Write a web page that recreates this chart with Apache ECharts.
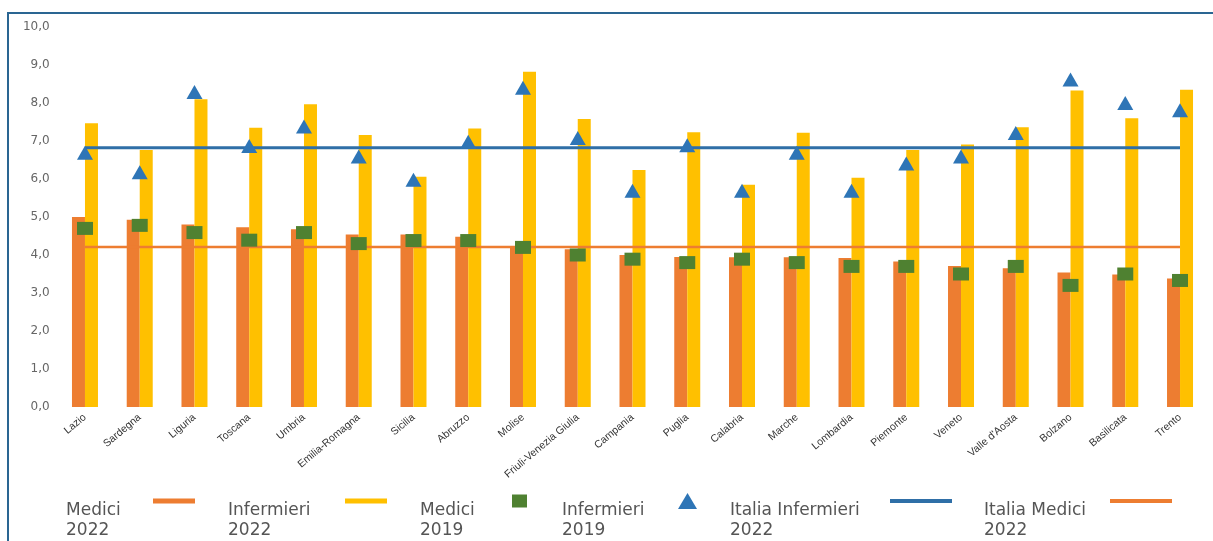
<!DOCTYPE html>
<html>
<head>
<meta charset="utf-8">
<script src="https://cdn.jsdelivr.net/npm/echarts@6/dist/echarts.min.js"></script>
<style>
  html, body { margin: 0; padding: 0; background: #ffffff; }
  #chart { position: absolute; left: 0; top: 0; width: 1213px; height: 541px; }
  #frame { position: absolute; left: 7px; top: 12px; width: 1220px; height: 560px;
           border-left: 2px solid #2a6592; border-top: 2px solid #2a6592; pointer-events: none; }
</style>
</head>
<body>
<div id="chart"></div>
<div id="frame"></div>
<script>
const categories = ['Lazio','Sardegna','Liguria','Toscana','Umbria','Emilia-Romagna','Sicilia','Abruzzo','Molise','Friuli-Venezia Giulia','Campania','Puglia','Calabria','Marche','Lombardia','Piemonte','Veneto',"Valle d'Aosta",'Bolzano','Basilicata','Trento'];
const medici2022 = [5.00, 4.93, 4.80, 4.73, 4.68, 4.54, 4.54, 4.48, 4.23, 4.15, 4.00, 3.95, 3.94, 3.94, 3.92, 3.83, 3.71, 3.65, 3.54, 3.49, 3.38];
const infermieri2022 = [7.47, 6.76, 8.10, 7.35, 7.97, 7.16, 6.06, 7.33, 8.82, 7.58, 6.24, 7.23, 5.85, 7.22, 6.03, 6.76, 6.91, 7.36, 8.33, 7.60, 8.35];
const medici2019 = [4.70, 4.78, 4.59, 4.39, 4.59, 4.30, 4.38, 4.38, 4.20, 4.00, 3.89, 3.80, 3.89, 3.80, 3.70, 3.70, 3.50, 3.70, 3.20, 3.50, 3.33];
const infermieri2019 = [6.69, 6.18, 8.29, 6.87, 7.38, 6.59, 5.98, 6.98, 8.40, 7.08, 5.69, 6.89, 5.69, 6.69, 5.69, 6.41, 6.59, 7.21, 8.62, 8.00, 7.81];
const italiaInfermieri2022 = 6.82;
const italiaMedici2022 = 4.21;
const yTicks = [0,1,2,3,4,5,6,7,8,9,10];

const C_ORANGE = '#ED7D31', C_YELLOW = '#FFC000', C_GREEN = '#4F8131', C_BLUE = '#2E75B6', C_BLUE_LINE = '#2F6FA7';

const legendSpec = [
  { name: 'Medici 2022', textLeft: 66, iconLeft: 153, w: 42, h: 5, icon: 'rect' },
  { name: 'Infermieri 2022', textLeft: 228, iconLeft: 345, w: 42, h: 5, icon: 'rect' },
  { name: 'Medici 2019', textLeft: 420, iconLeft: 512, w: 15, h: 13, icon: 'rect' },
  { name: 'Infermieri 2019', textLeft: 562, iconLeft: 678, w: 19, h: 16, icon: 'triangle' },
  { name: 'Italia Infermieri 2022', textLeft: 730, iconLeft: 890, w: 62, h: 4, icon: 'rect' },
  { name: 'Italia Medici 2022', textLeft: 984, iconLeft: 1110, w: 62, h: 4, icon: 'rect' }
];
function fmt(n) {
  const m = n.match(/^(.*) (\d{4})$/);
  return '{s| }\n{t|' + m[1] + '}\n{t|' + m[2] + '}';
}
const legends = legendSpec.map(s => ({
  data: [s.name],
  left: s.textLeft,
  top: 476,
  padding: 0,
  align: 'right',
  icon: s.icon,
  itemWidth: s.w,
  itemHeight: s.h,
  selectedMode: false,
  formatter: fmt,
  textStyle: {
    fontFamily: 'DejaVu Sans', fontSize: 17, color: '#555555',
    rich: {
      s: { fontSize: 10, lineHeight: 40, width: s.iconLeft - s.textLeft - 5 },
      t: { fontFamily: 'DejaVu Sans', fontSize: 17, color: '#555555', lineHeight: 20, align: 'left',
           width: s.iconLeft - s.textLeft - 5 }
    }
  }
}));

const chart = echarts.init(document.getElementById('chart'), null, { renderer: 'canvas' });
chart.setOption({
  animation: false,
  backgroundColor: '#ffffff',
  legend: legends,
  grid: { left: 57.6, right: 5.6, top: 27, bottom: 134, containLabel: false },
  xAxis: {
    type: 'category',
    data: categories,
    axisLine: { show: false },
    axisTick: { show: false },
    axisLabel: { interval: 0, rotate: 40, fontSize: 10.5, color: '#333333', fontFamily: 'Liberation Sans', margin: 9 }
  },
  yAxis: {
    type: 'value',
    min: yTicks[0], max: yTicks[yTicks.length - 1], interval: 1,
    splitLine: { show: false },
    axisLine: { show: false },
    axisTick: { show: false },
    axisLabel: { fontSize: 12, color: '#666666', fontFamily: 'DejaVu Sans', margin: 8,
      formatter: v => v.toFixed(1).replace('.', ',') }
  },
  series: [
    { name: 'Medici 2022', type: 'bar', data: medici2022, barWidth: 13, barGap: '0%',
      itemStyle: { color: C_ORANGE }, z: 2 },
    { name: 'Infermieri 2022', type: 'bar', data: infermieri2022, barWidth: 13, barGap: '0%',
      itemStyle: { color: C_YELLOW }, z: 2 },
    { name: 'Italia Infermieri 2022', type: 'line', data: categories.map(() => italiaInfermieri2022),
      symbol: 'none', lineStyle: { color: C_BLUE_LINE, width: 3 }, itemStyle: { color: C_BLUE_LINE }, z: 3 },
    { name: 'Italia Medici 2022', type: 'line', data: categories.map(() => italiaMedici2022),
      symbol: 'none', lineStyle: { color: C_ORANGE, width: 2.5 }, itemStyle: { color: C_ORANGE }, z: 3 },
    { name: 'Medici 2019', type: 'scatter', data: medici2019, symbol: 'rect', symbolSize: [16, 13],
      itemStyle: { color: C_GREEN, opacity: 1 }, z: 4 },
    { name: 'Infermieri 2019', type: 'scatter', data: infermieri2019, symbol: 'triangle', symbolSize: [16, 14],
      itemStyle: { color: C_BLUE, opacity: 1 }, z: 5 }
  ]
});
</script>
</body>
</html>
